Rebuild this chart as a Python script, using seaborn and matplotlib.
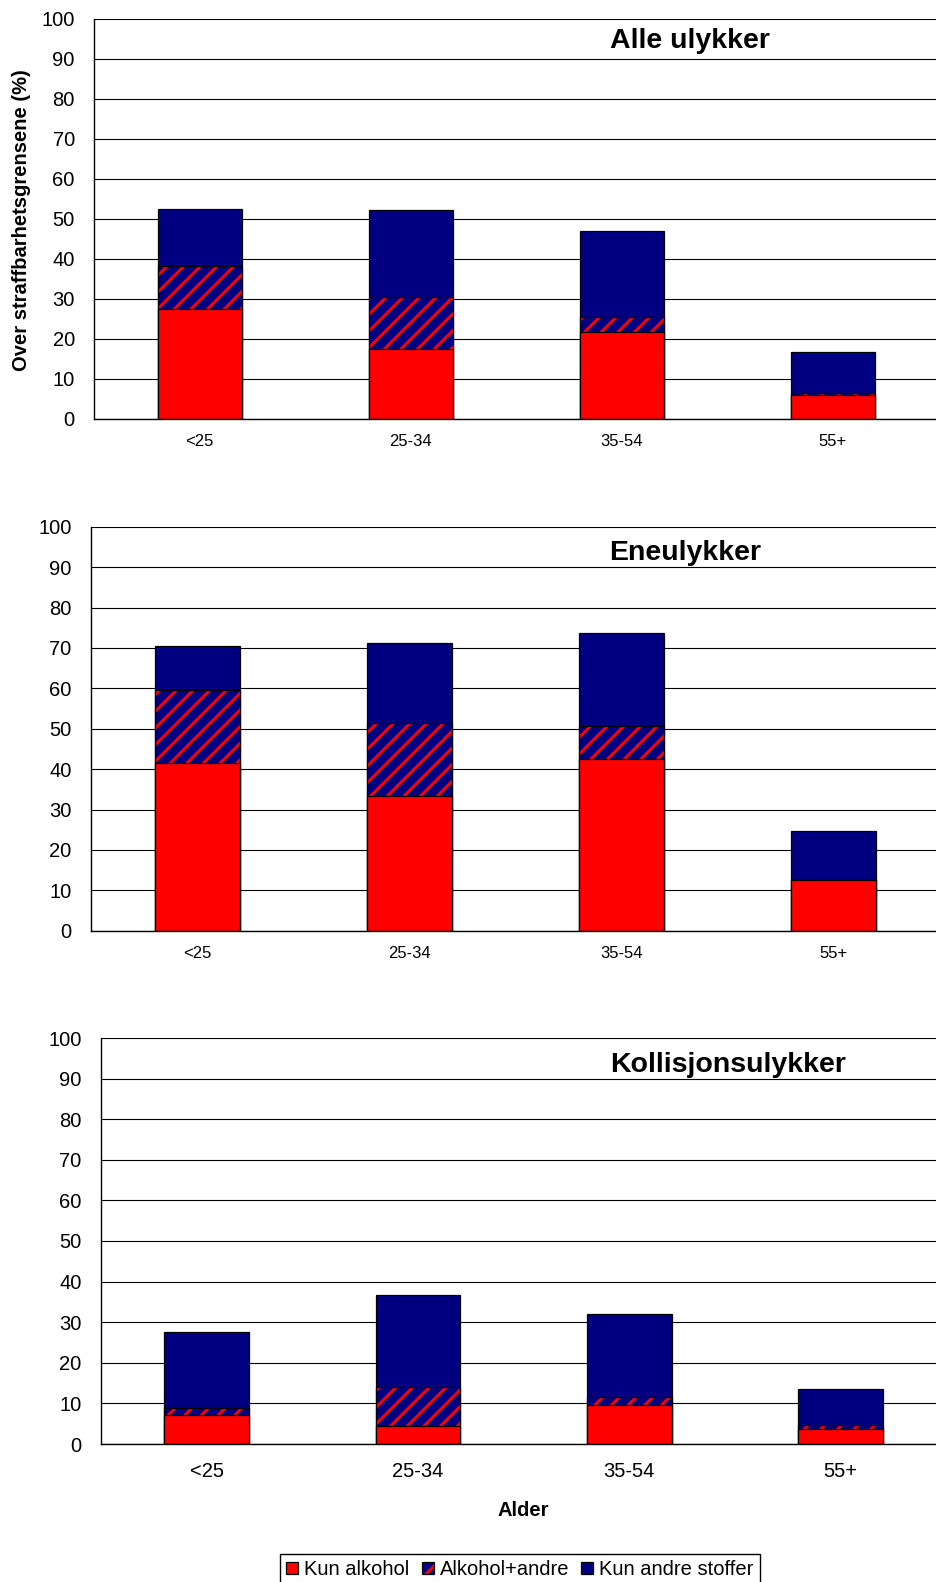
import numpy as np
import pandas as pd
import matplotlib
matplotlib.use("Agg")
import matplotlib.pyplot as plt
from matplotlib.patches import Patch
import seaborn as sns

# Age groups and series
age_groups = ["<25", "25-34", "35-54", "55+"]
series_names = ["Kun alkohol", "Alkohol+andre", "Kun andre stoffer"]
panel_titles = ["Alle ulykker", "Eneulykker", "Kollisjonsulykker"]

# Share above the legal limits (%), by age group
alle_kun_alkohol = [27.5, 17.5, 21.6, 6.0]
alle_alkohol_andre = [10.6, 13.0, 3.8, 0.4]
alle_kun_andre = [14.3, 21.6, 21.6, 10.4]

ene_kun_alkohol = [41.6, 33.4, 42.4, 12.5]
ene_alkohol_andre = [18.1, 18.1, 8.3, 0.0]
ene_kun_andre = [10.8, 19.7, 22.9, 12.3]

koll_kun_alkohol = [7.2, 4.5, 9.7, 3.7]
koll_alkohol_andre = [1.7, 9.5, 1.9, 0.9]
koll_kun_andre = [18.8, 22.8, 20.5, 9.0]

y_ticks = list(range(0, 101, 10))

RED = "#FF0000"
NAVY = "#000080"

sns.set_style("white")
plt.rcParams["font.family"] = ["Liberation Sans", "DejaVu Sans"]
plt.rcParams["hatch.linewidth"] = 2.1
for key in ("text.color", "axes.labelcolor", "xtick.color", "ytick.color"):
    plt.rcParams[key] = "black"

W, H = 936, 1582
fig = plt.figure(figsize=(W / 100, H / 100), dpi=100)


def px_axes(left, y_zero, y_hundred, spacing):
    return fig.add_axes([left / W, 1 - y_zero / H,
                         4 * spacing / W, (y_zero - y_hundred) / H])


def draw_panel(ax, red, mix, other, tick_size, tick_pad):
    red = np.asarray(red)
    lvl2 = red + np.asarray(mix)
    total = lvl2 + np.asarray(other)
    df = pd.DataFrame({"Alder": age_groups, "total": total,
                       "lvl2": lvl2, "red": red})
    common = dict(data=df, x="Alder", order=age_groups, width=0.4,
                  errorbar=None, saturation=1, ax=ax)
    # stacked segments drawn as overlapping cumulative bars
    sns.barplot(y="total", color=NAVY, edgecolor="black", linewidth=0.9, **common)
    sns.barplot(y="lvl2", color=NAVY, edgecolor=RED, hatch="//", linewidth=0, **common)
    n0 = len(ax.patches)
    sns.barplot(y="lvl2", color=NAVY, edgecolor="black", linewidth=0.9, **common)
    for p in ax.patches[n0:]:
        p.set_facecolor("none")
    sns.barplot(y="red", color=RED, edgecolor="black", linewidth=0.9, **common)

    ax.set_xlim(-0.5, 3.5)
    ax.set_ylim(0, 100)
    ax.set_yticks(y_ticks)
    ax.set_xlabel("")
    ax.set_ylabel("")
    ax.set_axisbelow(True)
    ax.yaxis.grid(True, color="black", linewidth=0.8)
    ax.xaxis.grid(False)
    for s in ("top", "right"):
        ax.spines[s].set_visible(False)
    for s in ("left", "bottom"):
        ax.spines[s].set_color("black")
        ax.spines[s].set_linewidth(1.0)
    ax.set_xticks([0.5, 1.5, 2.5, 3.5], minor=True)
    ax.tick_params(axis="x", which="major", length=0, labelsize=tick_size,
                   pad=tick_pad, labelcolor="black")
    ax.tick_params(axis="x", which="minor", length=5, width=1, color="black", direction="out")
    ax.tick_params(axis="y", length=7, width=1, color="black", direction="out",
                   labelsize=14.5, pad=7, labelcolor="black")


ax1 = px_axes(94.3, 418.7, 18.7, 211.0)
draw_panel(ax1, alle_kun_alkohol, alle_alkohol_andre, alle_kun_andre, 12, 11)

ax2 = px_axes(91.0, 930.7, 526.7, 212.2)
draw_panel(ax2, ene_kun_alkohol, ene_alkohol_andre, ene_kun_andre, 12, 11)

ax3 = px_axes(101.0, 1444.0, 1038.0, 211.3)
draw_panel(ax3, koll_kun_alkohol, koll_alkohol_andre, koll_kun_andre, 14.5, 13)

# Panel titles
for title, (cx, cy) in zip(panel_titles, [(690, 41), (685, 553), (728, 1065)]):
    fig.text(cx / W, 1 - cy / H, title, ha="center", va="center",
             fontsize=20.5, fontweight="bold", color="black")

fig.text(22 / W, 1 - 220 / H, "Over straffbarhetsgrensene (%)", rotation=90,
         ha="center", va="center", fontsize=14.5, fontweight="bold", color="black")
fig.text(523 / W, 1 - 1511 / H, "Alder", ha="center", va="center",
         fontsize=14.5, fontweight="bold", color="black")

# Legend
handles = [
    Patch(facecolor=RED, edgecolor="black", linewidth=0.9),
    (Patch(facecolor=NAVY, edgecolor=RED, hatch="//", linewidth=0),
     Patch(facecolor="none", edgecolor="black", linewidth=0.9)),
    Patch(facecolor=NAVY, edgecolor="black", linewidth=0.9),
]
leg = fig.legend(handles, series_names, loc="upper center",
                 bbox_to_anchor=(520 / W, 1 - 1554 / H), ncol=3,
                 fontsize=14.5, handlelength=0.6, handleheight=0.6,
                 handletextpad=0.3, columnspacing=0.6, borderpad=0.3,
                 fancybox=False, framealpha=1, borderaxespad=0)
leg.get_frame().set_edgecolor("black")
leg.get_frame().set_linewidth(1.0)
for t in leg.get_texts():
    t.set_color("black")

fig.savefig("out.png", dpi=100)
